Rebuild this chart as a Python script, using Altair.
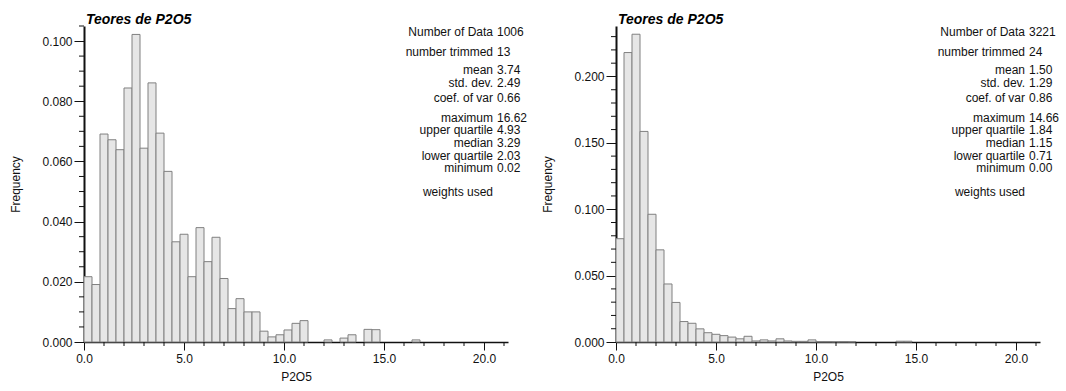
import altair as alt
import pandas as pd

FONT = "Liberation Sans"
BIN_WIDTH = 0.4

# ---- histogram of P2O5 grades, first data set (bin lower edge, relative frequency)
left_bin_start = [0.0, 0.4, 0.8, 1.2, 1.6, 2.0, 2.4, 2.8, 3.2, 3.6, 4.0, 4.4, 4.8, 5.2,
                  5.6, 6.0, 6.4, 6.8, 7.2, 7.6, 8.0, 8.4, 8.8, 9.2, 9.6, 10.0, 10.4, 10.8,
                  12.0, 12.8, 13.2, 14.0, 14.4, 16.4]
left_freq = [0.0217, 0.0191, 0.0691, 0.0672, 0.0639, 0.0844, 0.1022, 0.0644, 0.0861, 0.0694,
             0.0567, 0.0333, 0.0358, 0.0217, 0.0380, 0.0267, 0.0348, 0.0211, 0.0111, 0.0144,
             0.0100, 0.0100, 0.0036, 0.0017, 0.0024, 0.0040, 0.0062, 0.0071,
             0.0007, 0.0013, 0.0024, 0.0042, 0.0041, 0.0007]

# ---- second data set
right_bin_start = [0.0, 0.4, 0.8, 1.2, 1.6, 2.0, 2.4, 2.8, 3.2, 3.6, 4.0, 4.4, 4.8, 5.2,
                   5.6, 6.0, 6.4, 6.8, 7.2, 7.6, 8.0, 8.4, 8.8, 9.2, 9.6, 10.0, 10.4, 10.8,
                   11.2, 11.6, 14.0, 14.4]
right_freq = [0.0778, 0.2180, 0.2318, 0.1586, 0.0962, 0.0694, 0.0437, 0.0298, 0.0154, 0.0141,
              0.0099, 0.0070, 0.0058, 0.0048, 0.0037, 0.0024, 0.0043, 0.0008, 0.0016, 0.0008,
              0.0024, 0.0008, 0.0005, 0.0005, 0.0016, 0.0003, 0.0003, 0.0002,
              0.0003, 0.0002, 0.0006, 0.0006]

# ---- summary statistics shown in the upper right of each panel
stat_labels = ["Number of Data", "number trimmed", "mean", "std. dev.", "coef. of var",
               "maximum", "upper quartile", "median", "lower quartile", "minimum",
               "weights used"]
left_stats = ["1006", "13", "3.74", "2.49", "0.66", "16.62", "4.93", "3.29", "2.03", "0.02", ""]
right_stats = ["3221", "24", "1.50", "1.29", "0.86", "14.66", "1.84", "1.15", "0.71", "0.00", ""]

# vertical placement of the statistics lines (pixels below the top of the plot)
STAT_LINE_Y = [6, 26, 44, 57, 71.5, 92, 104, 117, 129.5, 142, 165.5]

PLOT_W, PLOT_H = 424, 316
X_MAX = 21.2
INK = "#111111"


def panel(starts, freqs, values, y_max, y_minor, y_major):
    bars = pd.DataFrame({
        "lo": starts,
        "hi": [round(s + BIN_WIDTH, 2) for s in starts],
        "freq": freqs,
    })
    stats = pd.DataFrame({"label": stat_labels, "value": values, "py": STAT_LINE_Y})

    # labelled major ticks come from the axes, shorter minor ticks are drawn as rules
    n_minor = int(round(y_max / y_minor + 1e-9))
    y_all = [round(i * y_minor, 4) for i in range(n_minor + 1) if i * y_minor <= y_max + 1e-9]
    y_major_vals = [v for v in y_all if abs(v / y_major - round(v / y_major)) < 1e-6]
    y_minor_vals = [v for v in y_all if v not in y_major_vals]
    x_major_vals = [0, 5, 10, 15, 20]
    x_minor_vals = [v for v in range(0, 22) if v not in x_major_vals]

    x_scale = alt.Scale(domain=[0, X_MAX], nice=False, zero=False)
    y_scale = alt.Scale(domain=[0, y_max], nice=False)

    x_axis = alt.Axis(
        values=x_major_vals, format=".1f", title="P2O5", tickSize=8,
        labelFont=FONT, labelFontSize=12, labelColor=INK, labelPadding=3,
        titleFont=FONT, titleFontSize=12, titleFontWeight="normal", titleColor=INK,
        titlePadding=7, domainColor=INK, domainWidth=1.6, tickColor=INK, tickWidth=1,
        grid=False, labelFlush=False,
    )
    y_axis = alt.Axis(
        values=y_major_vals, format=".3f", title="Frequency", tickSize=10,
        labelFont=FONT, labelFontSize=12, labelColor=INK, labelPadding=2,
        titleFont=FONT, titleFontSize=12, titleFontWeight="normal", titleColor=INK,
        titlePadding=19, domainColor=INK, domainWidth=2, tickColor=INK, tickWidth=1,
        grid=False, labelFlush=False,
    )

    hist = alt.Chart(bars).mark_rect(
        fill="#e6e6e6", stroke="#808080", strokeWidth=1
    ).encode(
        x=alt.X("lo:Q", scale=x_scale, axis=x_axis),
        x2="hi:Q",
        y=alt.Y("freq:Q", scale=y_scale, axis=y_axis),
        y2=alt.datum(0),
    )

    y_minor_ticks = alt.Chart(pd.DataFrame({"v": y_minor_vals})).mark_rule(
        color=INK, strokeWidth=1
    ).encode(
        y=alt.Y("v:Q", scale=y_scale),
        x=alt.value(-5), x2=alt.value(0),
    )
    x_minor_ticks = alt.Chart(pd.DataFrame({"u": x_minor_vals})).mark_rule(
        color=INK, strokeWidth=1
    ).encode(
        x=alt.X("u:Q", scale=x_scale),
        y=alt.value(PLOT_H), y2=alt.value(PLOT_H + 4),
    )

    # statistics block, placed in frequency units so it shares the y scale
    base = alt.Chart(stats).transform_calculate(
        fy=f"{y_max} * (1 - datum.py / {PLOT_H})"
    )
    names = base.mark_text(
        align="right", baseline="middle", font=FONT, fontSize=12, color=INK
    ).encode(x=alt.value(409), y=alt.Y("fy:Q", scale=y_scale), text="label:N")
    nums = base.mark_text(
        align="left", baseline="middle", font=FONT, fontSize=12, color=INK
    ).encode(x=alt.value(413), y=alt.Y("fy:Q", scale=y_scale), text="value:N")

    return alt.layer(hist, y_minor_ticks, x_minor_ticks, names, nums).properties(
        width=PLOT_W, height=PLOT_H,
        title=alt.TitleParams(
            "Teores de P2O5", anchor="start", frame="group", font=FONT, fontSize=14,
            fontStyle="italic", fontWeight="bold", color="#000", offset=-1, dx=2,
        ),
    )


left = panel(left_bin_start, left_freq, left_stats, 0.105, 0.005, 0.02)
right = panel(right_bin_start, right_freq, right_stats, 0.238, 0.01, 0.05)

chart = alt.hconcat(left, right, spacing=108, bounds="flush").properties(
    padding={"left": 9, "top": 12, "right": 0, "bottom": 0},
    background="white",
).configure(font=FONT).configure_view(stroke=None)

chart.save("out.html", embed_options={"renderer": "svg", "actions": False})
